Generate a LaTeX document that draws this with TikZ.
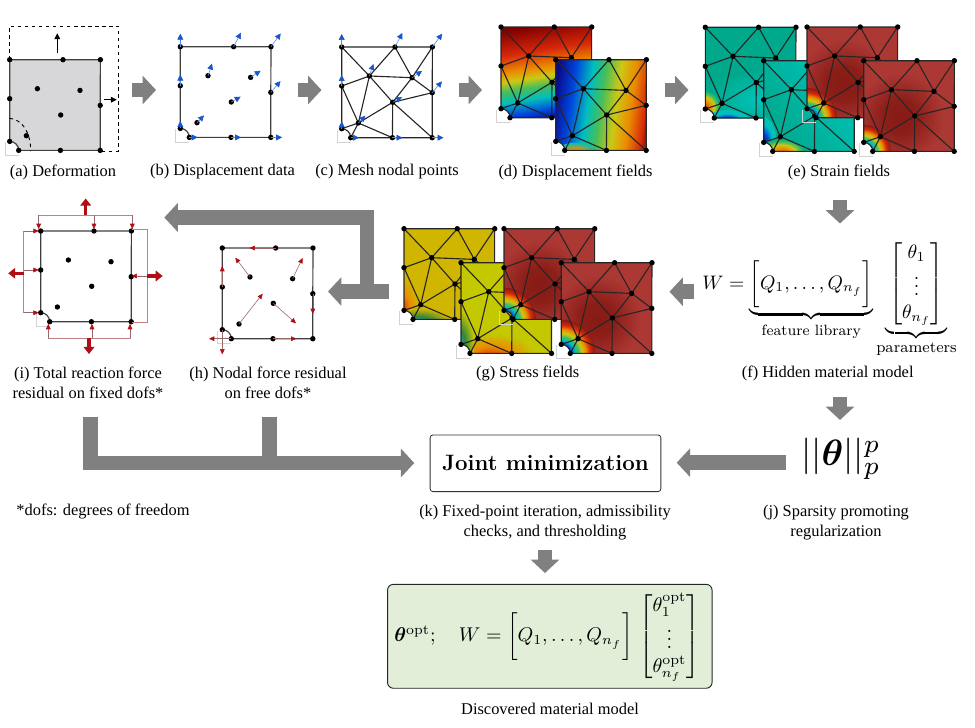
\documentclass[tikz,border=0pt]{standalone}
\usepackage{amsmath,amssymb,amsfonts}
\usepackage{bm}
\usepackage[no-math]{fontspec}
\usetikzlibrary{arrows.meta,positioning,shapes.geometric}
\newfontfamily\capfont{Liberation Serif}

\definecolor{fieldteal}{RGB}{0,168,140}
\definecolor{fieldcyan}{RGB}{0,195,185}
\definecolor{fieldred}{RGB}{172,56,52}
\definecolor{fielddark}{RGB}{135,26,20}
\definecolor{fieldyel}{RGB}{208,182,0}
\definecolor{fieldlime}{RGB}{196,200,0}
\definecolor{jetnavy}{RGB}{10,10,140}
\definecolor{jetblue}{RGB}{0,70,220}
\definecolor{jetcyan}{RGB}{0,190,190}
\definecolor{jetgreen}{RGB}{70,190,90}
\definecolor{jetyel}{RGB}{205,200,20}
\definecolor{jetorg}{RGB}{235,140,0}
\definecolor{jetred}{RGB}{215,40,10}
\definecolor{jetdark}{RGB}{130,0,0}
\definecolor{dispblue}{RGB}{25,85,205}
\definecolor{forcered}{RGB}{175,15,20}
\definecolor{brackred}{RGB}{190,130,130}
\definecolor{panelgray}{RGB}{215,214,217}
\definecolor{modelgreen}{RGB}{226,238,216}

\pgfdeclareverticalshading{disptop}{100bp}{color(0bp)=(jetnavy); color(25bp)=(jetnavy); color(30bp)=(jetblue);
  color(37bp)=(jetcyan); color(43bp)=(jetgreen); color(48bp)=(jetyel); color(53bp)=(jetorg);
  color(62bp)=(jetred); color(75bp)=(jetdark); color(100bp)=(jetdark)}
\pgfdeclarehorizontalshading{dispside}{100bp}{color(0bp)=(jetnavy); color(25bp)=(jetnavy); color(34bp)=(jetblue);
  color(43bp)=(jetcyan); color(50bp)=(jetgreen); color(58bp)=(jetyel); color(66bp)=(jetorg);
  color(74bp)=(jetred); color(75bp)=(jetred!80!black); color(100bp)=(jetdark)}
\pgfdeclareradialshading{darkband}{\pgfpointorigin}{color(0bp)=(fielddark); color(10bp)=(fielddark!85!fieldred); color(25bp)=(fieldred); color(50bp)=(fieldred)}

% rainbow, hot and cold spots that fade into a field colour
\newcommand{\mkspots}[1]{%
  \pgfdeclareradialshading{rb#1}{\pgfpointorigin}{color(0bp)=(jetnavy); color(7bp)=(jetblue); color(10bp)=(jetcyan);
    color(12.5bp)=(jetgreen); color(15bp)=(jetyel); color(18bp)=(jetorg); color(21bp)=(jetred); color(25bp)=(#1); color(50bp)=(#1)}
  \pgfdeclareradialshading{hot#1}{\pgfpointorigin}{color(0bp)=(jetred); color(9bp)=(jetorg); color(15bp)=(jetyel);
    color(20bp)=(jetgreen); color(25bp)=(#1); color(50bp)=(#1)}
  \pgfdeclareradialshading{warm#1}{\pgfpointorigin}{color(0bp)=(jetred); color(12bp)=(jetorg); color(25bp)=(#1); color(50bp)=(#1)}
  \pgfdeclareradialshading{cold#1}{\pgfpointorigin}{color(0bp)=(jetnavy); color(9bp)=(jetblue); color(17bp)=(jetcyan);
    color(25bp)=(#1); color(50bp)=(#1)}
  \pgfdeclareradialshading{wet#1}{\pgfpointorigin}{color(0bp)=(jetcyan); color(10bp)=(jetgreen!70!black); color(25bp)=(#1); color(50bp)=(#1)}}
\mkspots{fieldteal}
\mkspots{fieldcyan}
\mkspots{fielddark}
\mkspots{fieldyel}
\mkspots{fieldlime}

% mesh points of one square specimen, local to a shifted scope
\newcommand{\meshcoords}{%
  \foreach \name/\x/\y in {tl/0/0,tm/53.3/0,tr/90.7/0,l/0/39,r/90.5/45.7,br/90.5/90.7,bm/50.7/90.7,
      nb/9/90.7,nl/0/81.7,ca/27.7/29,cb/70.3/30.7,cc/51/55.3,cd/16.7/76}
    {\coordinate (\name) at (\x,\y);}}
\newcommand{\meshoutline}{(tl)--(tr)--(r)--(br)--(nb) .. controls (9,85.7) and (5,81.7) .. (nl)--(l)--cycle}
\newcommand{\meshdots}{\foreach \p in {tl,tm,tr,l,r,br,bm,nb,nl,ca,cb,cc,cd} {\fill (\p) circle (2.7);}}
\newcommand{\notchsq}{\draw[gray!35, line width=.6pt] (-4.5,82.5)--(-4.5,95.2)--(9,95.2);}
\newcommand{\meshedges}{%
  \draw[meshline] (tl)--(ca) (tm)--(ca) (tm)--(cb) (tr)--(cb) (ca)--(cb) (ca)--(l) (ca)--(cc) (ca)--(cd)
    (cb)--(cc) (cb)--(r) (cc)--(r) (cc)--(cd) (cc)--(bm) (cc)--(br) (cd)--(l) (cd)--(nl) (cd)--(nb) (cd)--(bm);}
% #1 what fills the field, #2 #3 upper left corner
\newcommand{\fieldpanel}[3]{%
  \begin{scope}[shift={(#2,#3)}]
    \meshcoords
    \begin{scope}
      \clip \meshoutline;
      #1
    \end{scope}
    \notchsq
    \meshedges
    \draw[meshline] \meshoutline;
    \meshdots
  \end{scope}}
\newcommand{\spot}[5]{\shade[shading=#1] (#2,#3) ellipse [x radius=#4, y radius=#5];}
\newcommand{\redfield}[1]{\fill[fieldred] (-2,-2) rectangle (92,92);
  \shade[shading=darkband] (36,56) circle (44);
  \spot{rbfielddark}{0}{91}{#1}{#1}}

\begin{document}
\begin{tikzpicture}[
    x=0.03cm, y=-0.03cm,
    captext/.style={font=\capfont\fontsize{14}{17}\selectfont, align=center, inner sep=0pt},
    meshline/.style={line width=.95pt, black!85},
    plainline/.style={line width=1pt, black!75},
    disp/.style={line width=.5pt, dispblue!70, -{Triangle[length=5pt, width=5pt, color=dispblue]}},
    force/.style={line width=.5pt, brackred!80!black, -{Triangle[length=4.5pt, width=4pt, color=forcered]}},
    brack/.style={line width=.7pt, brackred},
    bigforce/.style={line width=2.6pt, forcered, -{Triangle[length=6pt, width=9pt]}},
    bigarr/.style={line width=12.5pt, black!50, -{Triangle[length=11.5pt, width=24pt]}},
    trunk/.style={line width=12.5pt, black!50},
    eqn/.style={inner sep=0pt},
  ]
  \useasboundingbox (0,0) rectangle (975,728);

  % (a) deformation
  \begin{scope}[shift={(9.7,59.7)}]
    \meshcoords
    \fill[panelgray] \meshoutline;
    \notchsq
    \draw[plainline] \meshoutline;
    \draw[dashed, line width=.8pt] (-.7,0)--(-.7,-33.4)--(109,-33.4)--(109,91.3)--(90.5,91.3);
    \draw[dashed, line width=.8pt] (0,58.6) .. controls (13,60) and (21,73) .. (21,91.3);
    \draw[-{Triangle[length=5pt, width=5pt]}, line width=.5pt] (47.6,-6.4)--(47.6,-26.4);
    \draw[-{Triangle[length=5pt, width=5pt]}, line width=.5pt] (94.3,40)--(107,40);
    \meshdots
  \end{scope}

  % (b) displacement data, (c) mesh nodal points
  \begin{scope}[shift={(180.3,46.7)}]
    \meshcoords
    \notchsq
    \draw[plainline] \meshoutline;
    \meshdots
    \foreach \p/\dx/\dy in {tl/0/-13,tm/7.3/-14,tr/9.7/-13.3,l/0/-11,r/9.7/-11.3,br/11.3/0,bm/10/0,
        nb/8.3/0,nl/0/-7.3,ca/4/-12,cb/10/-6.7,cc/9.3/-5.3,cd/7/-7.3}
      {\draw[disp] (\p) -- ++(\dx,\dy);}
  \end{scope}
  \begin{scope}[shift={(341.7,47)}]
    \meshcoords
    \notchsq
    \meshedges
    \draw[meshline] \meshoutline;
    \meshdots
    \foreach \p/\dx/\dy in {tl/0/-13,tm/7.3/-14,tr/9.7/-13.3,l/0/-11,r/9.7/-11.3,br/11.3/0,bm/10/0,
        nb/8.3/0,nl/0/-7.3,ca/4/-12,cb/10/-6.7,cc/9.3/-5.3,cd/7/-7.3}
      {\draw[disp] (\p) -- ++(\dx,\dy);}
  \end{scope}

  % (d) displacement fields
  \fieldpanel{\shade[shading=disptop, shading angle=9] (-2,-2) rectangle (92,92);}{501}{27}
  \fieldpanel{\shade[shading=dispside, shading angle=-8] (-2,-2) rectangle (92,92);
    \spot{warmfieldcyan}{20}{95}{22}{12}}{555.7}{59.7}

  % (e) strain fields
  \fieldpanel{\fill[fieldteal] (-2,-2) rectangle (92,92);
    \shade[inner color=fieldcyan, outer color=fieldteal] (52,72) ellipse [x radius=50, y radius=30];
    \spot{hotfieldteal}{-1}{80}{16}{17}
    \spot{coldfieldcyan}{22}{93}{22}{10}}{705.3}{27.3}
  \fieldpanel{\shade[left color=fieldcyan, right color=fieldteal, shading angle=-55] (-2,-2) rectangle (92,92);
    \spot{coldfieldcyan}{-1}{82}{14}{26}
    \spot{hotfieldteal}{18}{93}{24}{15}}{763.7}{60.7}
  \fieldpanel{\redfield{30}}{807}{27}
  \fieldpanel{\redfield{27}}{863.7}{60.7}

  % (g) stress fields
  \fieldpanel{\fill[fieldyel] (-2,-2) rectangle (92,92);
    \spot{warmfieldyel}{-2}{80}{16}{30}
    \spot{wetfieldyel}{14}{93}{32}{13}}{404}{228.7}
  \fieldpanel{\fill[fieldlime] (-2,-2) rectangle (92,92);
    \spot{warmfieldlime}{30}{95}{45}{24}
    \spot{wetfieldlime}{-2}{82}{15}{34}}{461}{262.7}
  \fieldpanel{\redfield{32}}{504}{228.7}
  \fieldpanel{\redfield{34}}{561.3}{262.7}

  % (h) nodal force residual
  \begin{scope}[shift={(222.3,248)}]
    \meshcoords
    \notchsq
    \draw[plainline] \meshoutline;
    \meshdots
    \foreach \p/\dx/\dy in {tm/-26/0,l/0/-21,r/0/20.3,bm/23.3/0,ca/-14.7/-19.3,cb/10/-20.7,
        cc/22.7/20,cd/23.7/-30.3,nl/0/24.7,nb/-22.3/0}
      {\draw[force] (\p) -- ++(\dx,\dy);}
  \end{scope}

  % (i) total reaction force
  \begin{scope}[shift={(40.7,231)}]
    \meshcoords
    \notchsq
    \draw[plainline] \meshoutline;
    \meshdots
    \draw[brack] (-2,-16)--(91.6,-16) (-17,0)--(-17,81.7) (91,-1.7)--(106.6,-1.7)--(106.6,91.7)--(91,91.7)
      (7.6,93)--(7.6,107.3)--(89.3,107.3)--(89.3,93);
    \foreach \x in {-2,53.3,91.6} {\draw[force] (\x,-16)--(\x,-2);}
    \foreach \y in {0,39,81.7} {\draw[force] (-17,\y)--(-2,\y);}
    \draw[force] (106.6,45)--(91,45);
    \foreach \x in {7.6,51.3,89.3} {\draw[force] (\x,107.3)--(\x,93);}
    \draw[bigforce] (45,-16)--(45,-32.5);
    \draw[bigforce] (-17,42.3)--(-32.5,42.3);
    \draw[bigforce] (106.6,45)--(122,45);
    \draw[bigforce] (48.3,107.3)--(48.3,123);
  \end{scope}

  % equations and boxes
  \node[eqn, scale=1.67, anchor=base west] (hiddeneq) at (702,289)
    {$W=\underbrace{\left[\vphantom{\bigg|}Q_1,\dots,Q_{n_f}\right]}_{\mbox{\fontsize{7.6}{8}\selectfont feature library}}
      \underbrace{\,\begin{bmatrix}\theta_1\\ \vdots\\ \theta_{n_f}\end{bmatrix}\,}_{\mbox{\fontsize{8}{9}\selectfont parameters}}$};
  \node[eqn, scale=3.13] (norm) at (841,459) {$||\bm{\theta}||_p^p$};
  \node[draw=black!80, rounded corners=2.5pt, line width=.7pt, minimum width=197pt, minimum height=48.4pt, inner sep=0pt,
    font=\fontsize{19}{23}\selectfont\bfseries] (joint) at (545.5,463.3) {Joint minimization};
  \node[draw=black!85, fill=modelgreen, rounded corners=5pt, line width=.8pt, minimum width=277pt, minimum height=88.7pt,
    inner sep=0pt] (model) at (549.8,636.3) {};
  \node[eqn, scale=1.7] (modeleq) at (547,637)
    {$\bm{\theta}^{\mathrm{opt}};\quad W=\left[\vphantom{\bigg|}Q_1,\dots,Q_{n_f}\right]\,
      \begin{bmatrix}\theta_1^{\mathrm{opt}}\\ \vdots\\ \theta_{n_f}^{\mathrm{opt}}\end{bmatrix}$};

  % captions
  \foreach \name/\x/\y/\txt in {capa/63/172/{(a) Deformation},capb/222.5/172/{(b) Displacement data},
      capc/387/172/{(c) Mesh nodal points},capd/575.5/172/{(d) Displacement fields},cape/839/172/{(e) Strain fields},
      capg/527.7/373.5/{(g) Stress fields},capf/827.7/373.5/{(f) Hidden material model},
      capi/88/383/{(i) Total reaction force\\residual on fixed dofs*},caph/268/383/{(h) Nodal force residual\\on free dofs*},
      capdof/103/511.5/{*dofs: degrees of freedom},capk/545/523/{(k) Fixed-point iteration, admissibility\\checks, and thresholding},
      capj/836/523/{(j) Sparsity promoting\\regularization},capm/550/709/{Discovered material model}}
    {\node[captext] (\name) at (\x,\y) {\txt};}

  % block arrows between the stages
  \foreach \name/\x/\y in {ab0/132/90,ab1/156/90,bc0/298/90,bc1/321.5/90,cd0/458.5/90,cd1/482/90,de0/664.5/90,de1/688.5/90,
      ef0/840/200,ef1/840/223.5,fg0/693.5/291.7,fg1/669.5/291.7,gh0/389/291.5,gh1/328/291.5,ri0/367/291.5,ri1/367/217.5,ri2/164.3/217.5,
      fj0/840/397,fj1/840/420,jk0/786/462.7,jk1/676.7/462.7,ka0/90.8/416.7,ka1/90.8/463,ka2/414.3/463,hb0/269.7/416.7,hb1/269.7/463,
      km0/545/550,km1/545/573}
    {\coordinate (\name) at (\x,\y);}
  \foreach \a/\b in {ab0/ab1,bc0/bc1,cd0/cd1,de0/de1,ef0/ef1,fg0/fg1,gh0/gh1,fj0/fj1,jk0/jk1,km0/km1}
    {\draw[bigarr] (\a) -- (\b);}
  \draw[bigarr] (ri0) -- (ri1) -- (ri2);
  \draw[bigarr] (ka0) -- (ka1) -- (ka2);
  \draw[trunk] (hb0) -- (hb1);
\end{tikzpicture}
\end{document}
